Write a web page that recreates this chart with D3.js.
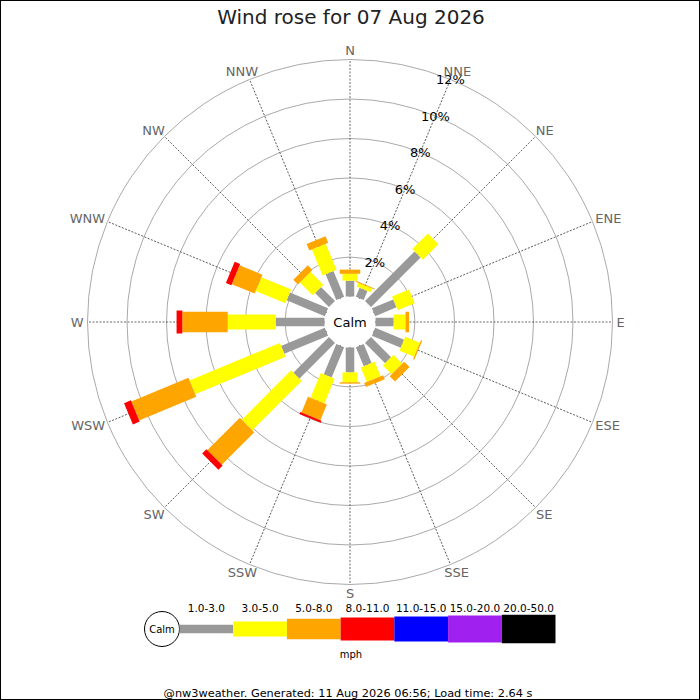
<!DOCTYPE html>
<html>
<head>
<meta charset="utf-8">
<script src="https://cdn.jsdelivr.net/npm/d3@7"></script>
<style>
  body { margin: 0; background: #fff; }
  svg { display: block; font-family: "DejaVu Sans", sans-serif; }
</style>
</head>
<body>
<div id="chart"></div>
<script>
// Compass points, clockwise from north
const directions = ["N", "NNE", "NE", "ENE", "E", "ESE", "SE", "SSE",
                    "S", "SSW", "SW", "WSW", "W", "WNW", "NW", "NNW"];

// Speed bands (mph) shown in the legend
const speedBands = ["1.0-3.0", "3.0-5.0", "5.0-8.0", "8.0-11.0", "11.0-15.0", "15.0-20.0", "20.0-50.0"];

// Percentage of the day per direction, one array per speed band
const pct1to3   = [0.80, 0.50, 3.55, 1.17, 0.92, 1.58, 1.44, 1.05, 1.26, 1.66, 2.55, 2.40, 2.47, 2.09, 1.00, 1.42];
const pct3to5   = [0.35, 0.20, 1.11, 0.93, 0.60, 0.80, 0.63, 0.79, 0.50, 1.36, 3.53, 4.95, 2.43, 1.63, 0.92, 1.42];
const pct5to8   = [0.21, 0.05, 0.00, 0.00, 0.18, 0.07, 0.38, 0.22, 0.07, 0.86, 2.33, 3.13, 2.30, 1.25, 0.33, 0.36];
const pct8to11  = [0.00, 0.00, 0.00, 0.00, 0.00, 0.00, 0.00, 0.00, 0.00, 0.11, 0.30, 0.37, 0.29, 0.30, 0.00, 0.00];
const pct11to15 = [0, 0, 0, 0, 0, 0, 0, 0, 0, 0, 0, 0, 0, 0, 0, 0];
const pct15to20 = [0, 0, 0, 0, 0, 0, 0, 0, 0, 0, 0, 0, 0, 0, 0, 0];
const pct20to50 = [0, 0, 0, 0, 0, 0, 0, 0, 0, 0, 0, 0, 0, 0, 0, 0];

// Ring ticks (%)
const ringTicks = [2, 4, 6, 8, 10, 12];

const titleText = "Wind rose for 07 Aug 2026";
const footerText = "@nw3weather. Generated: 11 Aug 2026 06:56; Load time: 2.64 s";

// Colours and bar thickness for each band
const bandColors = ["#999999", "#ffff00", "#ffa500", "#ff0000", "#0000ff", "#a020f0", "#000000"];
const bandWidths = [8.5, 15, 20.5, 23, 25, 27, 28.5];

const width = 700, height = 700;
const cx = 350, cy = 322;   // centre of the rose
const calmRadius = 25;

const svg = d3.select("#chart").append("svg")
    .attr("width", width)
    .attr("height", height);

// Frame
svg.append("rect")
    .attr("x", 0.5).attr("y", 0.5)
    .attr("width", width - 1).attr("height", height - 1)
    .attr("fill", "#fff")
    .attr("stroke", "#000");

// Radial scale: % -> pixels, starting at the calm circle
const r = d3.scaleLinear().domain([0, 12]).range([25.5, 262.5]);
// Angular scale: direction -> degrees clockwise from north
const angle = d3.scaleBand().domain(directions).range([0, 360]);

// Build rows for the stack
const bandKeys = ["b0", "b1", "b2", "b3", "b4", "b5", "b6"];
const bandSeries = [pct1to3, pct3to5, pct5to8, pct8to11, pct11to15, pct15to20, pct20to50];
const rows = directions.map((dir, i) => {
    const row = { dir: dir };
    bandKeys.forEach((k, j) => { row[k] = bandSeries[j][i]; });
    return row;
});
const stacked = d3.stack().keys(bandKeys)(rows);

const rose = svg.append("g").attr("transform", `translate(${cx},${cy})`);

// Rings
rose.selectAll(".ring")
    .data(ringTicks)
    .enter().append("circle")
    .attr("class", "ring")
    .attr("r", d => r(d))
    .attr("fill", "none")
    .attr("stroke", "#aaa")
    .attr("stroke-width", 1);

// Dotted spokes
rose.selectAll(".spoke")
    .data(directions)
    .enter().append("line")
    .attr("class", "spoke")
    .attr("transform", d => `rotate(${angle(d)})`)
    .attr("x1", 0).attr("y1", 0)
    .attr("x2", 0).attr("y2", -r(12))
    .attr("stroke", "#444")
    .attr("stroke-width", 0.8)
    .attr("stroke-dasharray", "2,1.5");

// Stacked bars, one layer per speed band
stacked.forEach((layer, j) => {
    rose.selectAll(".bar-" + j)
        .data(layer.filter(d => d[1] - d[0] > 0))
        .enter().append("rect")
        .attr("class", "bar-" + j)
        .attr("transform", d => `rotate(${angle(d.data.dir)})`)
        .attr("x", -bandWidths[j] / 2)
        .attr("width", bandWidths[j])
        .attr("y", d => -r(d[1]))
        .attr("height", d => r(d[1]) - r(d[0]))
        .attr("fill", bandColors[j]);
});

// Calm circle
rose.append("circle").attr("r", calmRadius).attr("fill", "#fff");
rose.append("text")
    .attr("text-anchor", "middle")
    .attr("dy", "0.35em")
    .style("font-size", "13px")
    .attr("fill", "#000")
    .text("Calm");

// Ring labels along the NNE spoke
const labelAngle = angle("NNE") * Math.PI / 180;
rose.selectAll(".ring-label")
    .data(ringTicks)
    .enter().append("text")
    .attr("class", "ring-label")
    .attr("x", d => r(d) * Math.sin(labelAngle))
    .attr("y", d => r(d) * -Math.cos(labelAngle))
    .attr("dy", "0.35em")
    .attr("text-anchor", "middle")
    .style("font-size", "13px")
    .attr("fill", "#000")
    .text(d => d + "%");

// Direction labels just outside the outer ring
rose.selectAll(".dir-label")
    .data(directions)
    .enter().append("text")
    .attr("class", "dir-label")
    .attr("text-anchor", "middle")
    .attr("dy", "0.35em")
    .style("font-size", "13px")
    .attr("fill", "#666")
    .text(d => d)
    .each(function(d) {
        const a = angle(d) * Math.PI / 180;
        const w = this.getComputedTextLength();
        const rr = r(12) + 4;
        const x = rr * Math.sin(a) + (w / 2) * Math.sin(a);
        const y = -rr * Math.cos(a) - 5 * Math.cos(a);
        d3.select(this).attr("x", x).attr("y", y);
    });

// Title
svg.append("text")
    .attr("x", 351).attr("y", 24)
    .attr("text-anchor", "middle")
    .style("font-size", "20px")
    .attr("fill", "#222")
    .text(titleText);

// Legend
const legendY = 629;
const lx = d3.scaleBand().domain(speedBands).range([179.5, 555.5]);

svg.append("circle")
    .attr("cx", 162).attr("cy", legendY).attr("r", 17.5)
    .attr("fill", "#fff").attr("stroke", "#000");
svg.append("text")
    .attr("x", 162).attr("y", legendY)
    .attr("dy", "0.35em")
    .attr("text-anchor", "middle")
    .style("font-size", "10px")
    .text("Calm");

svg.selectAll(".legend-box")
    .data(speedBands)
    .enter().append("rect")
    .attr("class", "legend-box")
    .attr("x", d => lx(d))
    .attr("width", lx.bandwidth())
    .attr("y", (d, i) => legendY - bandWidths[i] / 2)
    .attr("height", (d, i) => bandWidths[i])
    .attr("fill", (d, i) => bandColors[i]);

svg.selectAll(".legend-label")
    .data(speedBands)
    .enter().append("text")
    .attr("class", "legend-label")
    .attr("x", d => lx(d) + lx.bandwidth() / 2)
    .attr("y", 612)
    .attr("text-anchor", "middle")
    .style("font-size", "10.5px")
    .attr("fill", "#000")
    .text(d => d);

svg.append("text")
    .attr("x", 351).attr("y", 658)
    .attr("text-anchor", "middle")
    .style("font-size", "10px")
    .text("mph");

// Footer
svg.append("text")
    .attr("x", 348).attr("y", 697)
    .attr("text-anchor", "middle")
    .style("font-size", "11.3px")
    .attr("fill", "#000")
    .text(footerText);
</script>
</body>
</html>
